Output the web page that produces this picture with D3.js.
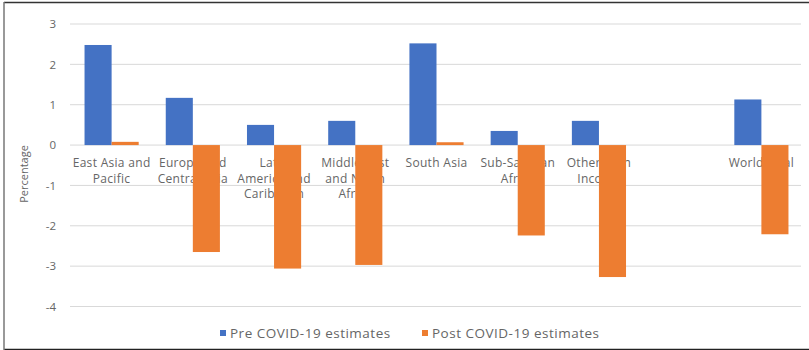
<!DOCTYPE html>
<html>
<head>
<meta charset="utf-8">
<script src="https://cdn.jsdelivr.net/npm/d3@7/dist/d3.min.js"></script>
<style>
  html, body { margin: 0; padding: 0; background: #fff; }
  svg { display: block; font-family: "Open Sans", sans-serif; }
</style>
</head>
<body>
<svg id="chart" width="809" height="350"></svg>
<script>
// Region categories (each entry holds the wrapped label lines; one blank slot before the world total)
const categories = [
  ["East Asia and", "Pacific"],
  ["Europe and", "Central Asia"],
  ["Latin", "America and", "Caribbean"],
  ["Middle East", "and North", "Africa"],
  ["South Asia"],
  ["Sub-Saharan", "Africa"],
  ["Other High", "Income"],
  [],
  ["World total"]
];
const preCovid  = [2.48, 1.17, 0.50, 0.60, 2.52, 0.35, 0.60, null, 1.13];
const postCovid = [0.08, -2.65, -3.06, -2.97, 0.07, -2.24, -3.27, null, -2.21];
const yTicks = [3, 2, 1, 0, -1, -2, -3, -4];
const seriesNames = ["Pre COVID-19 estimates", "Post COVID-19 estimates"];
const colors = ["#4472C4", "#ED7D31"];

const svg = d3.select("#chart");
const textColor = "#666666";

// Frame around the chart area
svg.append("line").attr("x1", 4).attr("x2", 809).attr("y1", 2.5).attr("y2", 2.5)
  .attr("stroke", "#333").attr("stroke-width", 1.5);
svg.append("line").attr("x1", 4).attr("x2", 809).attr("y1", 349.5).attr("y2", 349.5)
  .attr("stroke", "#222").attr("stroke-width", 1.5);
svg.append("line").attr("x1", 4).attr("x2", 4).attr("y1", 2).attr("y2", 350)
  .attr("stroke", "#777").attr("stroke-width", 1.5);

const idx = d3.range(categories.length);
const x = d3.scaleBand().domain(idx).range([71, 802]).paddingInner(0).paddingOuter(0);
const inner = d3.scaleBand().domain([0, 1]).range([0, x.bandwidth()]).paddingInner(0).paddingOuter(0.5);
const y = d3.scaleLinear().domain([-4, 3]).range([306.5, 24]);

// Horizontal gridlines
svg.append("g").selectAll("line").data(yTicks).join("line")
  .attr("x1", 70).attr("x2", 801)
  .attr("y1", d => y(d)).attr("y2", d => y(d))
  .attr("stroke", "#d9d9d9").attr("stroke-width", 1);

// Y tick labels (plain hyphen for negatives)
const yAxis = d3.axisLeft(y).tickValues(yTicks).tickSize(0).tickPadding(0).tickFormat(d => String(d));
const yg = svg.append("g").attr("transform", "translate(56,0)").call(yAxis);
yg.select(".domain").remove();
yg.selectAll("text").attr("fill", textColor).attr("font-size", 11.5).attr("font-family", "Open Sans, sans-serif");

// Category labels below the zero line
const labels = svg.append("g").selectAll("text").data(idx).join("text")
  .attr("text-anchor", "middle")
  .attr("fill", textColor)
  .attr("font-size", 12)
  .attr("letter-spacing", 0.3)
  .attr("x", i => x(i) + x.bandwidth() / 2)
  .attr("y", y(0) + 22);
labels.selectAll("tspan").data(i => categories[i].map(t => ({ t, i }))).join("tspan")
  .attr("x", d => x(d.i) + x.bandwidth() / 2)
  .attr("dy", (d, k) => k === 0 ? 0 : 15.6)
  .text(d => d.t);

// Bars
const series = [preCovid, postCovid];
series.forEach((vals, s) => {
  svg.append("g").selectAll("rect")
    .data(idx.filter(i => vals[i] !== null))
    .join("rect")
    .attr("x", i => x(i) + inner(s))
    .attr("width", inner.bandwidth())
    .attr("y", i => y(Math.max(0, vals[i])))
    .attr("height", i => Math.abs(y(vals[i]) - y(0)))
    .attr("fill", colors[s]);
});

// Y axis title
svg.append("text")
  .attr("transform", "translate(28,174) rotate(-90)")
  .attr("text-anchor", "middle")
  .attr("fill", textColor)
  .attr("font-size", 11)
  .text("Percentage");

// Legend
const legendX = [220, 422];
const lg = svg.append("g").selectAll("g").data(seriesNames).join("g")
  .attr("transform", (d, i) => `translate(${legendX[i]},0)`);
lg.append("rect").attr("x", 0).attr("y", 330).attr("width", 6).attr("height", 6)
  .attr("fill", (d, i) => colors[i]);
lg.append("text").attr("x", 10).attr("y", 337.5)
  .attr("fill", textColor).attr("font-size", 13.5)
  .attr("letter-spacing", 0.5)
  .text(d => d);
</script>
</body>
</html>
